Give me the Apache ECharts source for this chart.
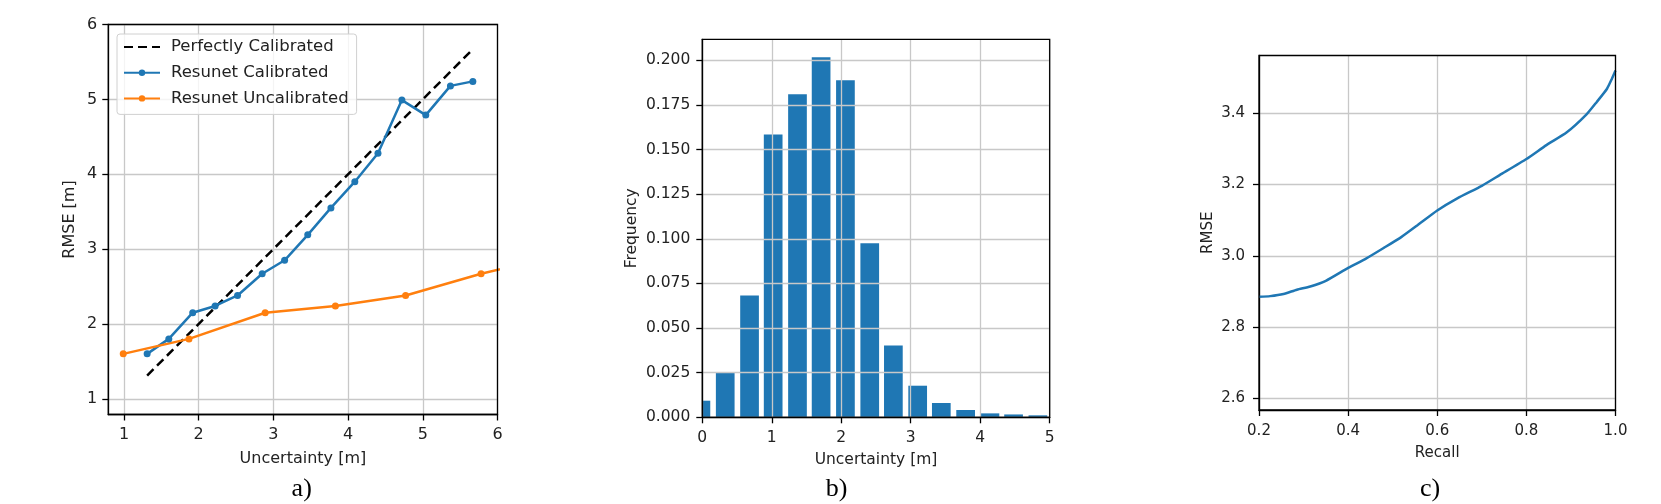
<!DOCTYPE html>
<html>
<head>
<meta charset="utf-8">
<script src="https://cdn.jsdelivr.net/npm/echarts@6/dist/echarts.min.js"></script>
<style>
  html, body { margin: 0; background: #fff; }
  #chart { width: 1661px; height: 504px; }
</style>
</head>
<body>
<div id="chart"></div>
<script>
// a) calibration curves
const calibX = [1.31, 1.60, 1.92, 2.22, 2.52, 2.85, 3.15, 3.46, 3.77, 4.09, 4.40, 4.72, 5.04, 5.37, 5.67]
const calibY = [1.60, 1.80, 2.15, 2.24, 2.38, 2.67, 2.85, 3.19, 3.55, 3.90, 4.28, 4.99, 4.79, 5.18, 5.24]
const uncalX = [0.99, 1.87, 2.89, 3.83, 4.77, 5.78, 6.75]
const uncalY = [1.60, 1.80, 2.15, 2.24, 2.38, 2.67, 2.90]
const perfectX = [1.31, 5.67]
const ticksA = [1, 2, 3, 4, 5, 6]

// b) uncertainty histogram
const binCenters = [-0.02, 0.33, 0.68, 1.02, 1.37, 1.71, 2.06, 2.41, 2.75, 3.10, 3.44, 3.79, 4.14, 4.48, 4.83]
const freq = [0.0093, 0.0252, 0.0683, 0.1584, 0.181, 0.2017, 0.1888, 0.0975, 0.0403, 0.0177, 0.008, 0.0041, 0.0022, 0.0016, 0.0011]
const ticksB = [0, 0.025, 0.05, 0.075, 0.1, 0.125, 0.15, 0.175, 0.2]

// c) RMSE vs recall
const recall = [0.20, 0.225, 0.255, 0.285, 0.315, 0.35, 0.40, 0.44, 0.48, 0.52, 0.555, 0.60, 0.645, 0.70, 0.74, 0.80, 0.845, 0.89, 0.935, 0.958, 0.981, 0.992, 1.0]
const rmse = [2.885, 2.887, 2.893, 2.905, 2.914, 2.930, 2.966, 2.992, 3.022, 3.053, 3.085, 3.127, 3.161, 3.196, 3.226, 3.271, 3.310, 3.345, 3.396, 3.431, 3.468, 3.496, 3.519]
const ticksC = [2.6, 2.8, 3.0, 3.2, 3.4]

const zip = (xs, ys) => xs.map((x, i) => [x, ys[i]])

const FONT = 'DejaVu Sans'
const TXT = '#222'
const BLUE = '#1f77b4'
const ORANGE = '#ff7f0e'
const BAR_W = 18.7

function axis(opts) {
  return Object.assign({
    type: 'value',
    nameLocation: 'middle',
    nameTextStyle: { fontFamily: FONT, fontSize: 16, color: TXT },
    axisLine: { show: true, onZero: false, lineStyle: { color: '#000', width: 1.3 } },
    axisTick: { show: true, inside: false, length: 6, lineStyle: { color: '#000', width: 1.3 } },
    axisLabel: { fontFamily: FONT, fontSize: 16, color: TXT },
    splitLine: { show: true, lineStyle: { color: '#c8c8c8', width: 1.3 } }
  }, opts)
}

// histogram bars, clipped to the plot box like matplotlib does
function renderBar(params, api) {
  const x = api.value(0)
  const base = api.coord([x, 0])
  const top = api.coord([x, api.value(1)])
  const cs = params.coordSys
  const rect = echarts.graphic.clipRectByRect(
    { x: top[0] - BAR_W / 2, y: top[1], width: BAR_W, height: base[1] - top[1] },
    { x: cs.x, y: cs.y, width: cs.width, height: cs.height }
  )
  return rect && { type: 'rect', shape: rect, style: api.style({ fill: BLUE }) }
}

const chart = echarts.init(document.getElementById('chart'))

const border = { show: true, borderColor: '#000', borderWidth: 1.3, z: 10 }

const option = {
  animation: false,
  backgroundColor: '#fff',
  grid: [
    Object.assign({ left: 108.3, top: 24.5, width: 389.2, height: 390 }, border),
    Object.assign({ left: 702.3, top: 39.3, width: 347.4, height: 378 }, border),
    Object.assign({ left: 1259, top: 55.5, width: 356.5, height: 354.5 }, border)
  ],
  xAxis: [
    axis({
      gridIndex: 0, min: 0.79, max: 6, splitNumber: 5,
      name: 'Uncertainty [m]', nameGap: 36,
      axisTick: { show: true, length: 6, customValues: ticksA, lineStyle: { color: '#000', width: 1.3 } },
      axisLabel: { fontFamily: FONT, fontSize: 16, color: TXT, margin: 12, customValues: ticksA }
    }),
    axis({
      gridIndex: 1, min: 0, max: 5, interval: 1, z: 5,
      name: 'Uncertainty [m]', nameGap: 35,
      nameTextStyle: { fontFamily: FONT, fontSize: 15.5, color: TXT },
      axisLabel: { fontFamily: FONT, fontSize: 15.5, color: TXT, margin: 13 }
    }),
    axis({
      gridIndex: 2, min: 0.2, max: 1.0, interval: 0.2,
      name: 'Recall', nameGap: 36,
      nameTextStyle: { fontFamily: FONT, fontSize: 15, color: TXT },
      axisLabel: { fontFamily: FONT, fontSize: 15, color: TXT, margin: 14, formatter: v => v.toFixed(1) }
    })
  ],
  yAxis: [
    axis({
      gridIndex: 0, min: 0.79, max: 6, splitNumber: 5,
      name: 'RMSE [m]', nameGap: 30,
      axisTick: { show: true, length: 6, customValues: ticksA, lineStyle: { color: '#000', width: 1.3 } },
      axisLabel: { fontFamily: FONT, fontSize: 16, color: TXT, margin: 11, customValues: ticksA }
    }),
    axis({
      gridIndex: 1, min: 0, max: 0.2118, interval: 0.025, z: 5,
      name: 'Frequency', nameGap: 62,
      nameTextStyle: { fontFamily: FONT, fontSize: 15.5, color: TXT },
      axisTick: { show: true, length: 6, customValues: ticksB, lineStyle: { color: '#000', width: 1.3 } },
      axisLabel: { fontFamily: FONT, fontSize: 15.5, color: TXT, margin: 12, customValues: ticksB, formatter: v => v.toFixed(3) }
    }),
    axis({
      gridIndex: 2, min: 2.568, max: 3.561, splitNumber: 5,
      name: 'RMSE', nameGap: 43,
      nameTextStyle: { fontFamily: FONT, fontSize: 15, color: TXT },
      axisTick: { show: true, length: 6, customValues: ticksC, lineStyle: { color: '#000', width: 1.3 } },
      axisLabel: { fontFamily: FONT, fontSize: 15, color: TXT, margin: 14, customValues: ticksC, formatter: v => v.toFixed(1) }
    })
  ],
  legend: {
    data: [
      { name: 'Perfectly Calibrated', itemStyle: { color: 'rgba(0,0,0,0)', opacity: 0 } },
      'Resunet Calibrated',
      'Resunet Uncalibrated'
    ],
    orient: 'vertical',
    left: 117, top: 34,
    itemWidth: 36, itemHeight: 8, itemGap: 7.7,
    padding: [4, 8, 7, 6],
    backgroundColor: 'rgba(255,255,255,0.8)',
    borderColor: '#d0d0d0', borderWidth: 1, borderRadius: 3,
    textStyle: { fontFamily: FONT, fontSize: 16.5, color: TXT, lineHeight: 18, padding: [0, 0, 0, 6] }
  },
  series: [
    {
      name: 'Perfectly Calibrated', type: 'line', xAxisIndex: 0, yAxisIndex: 0,
      data: zip(perfectX, perfectX), symbol: 'none',
      lineStyle: { color: '#000', width: 2.5, type: [9, 5] }, itemStyle: { color: '#000' }
    },
    {
      name: 'Resunet Calibrated', type: 'line', xAxisIndex: 0, yAxisIndex: 0,
      data: zip(calibX, calibY), symbol: 'circle', symbolSize: 7,
      lineStyle: { color: BLUE, width: 2.5 }, itemStyle: { color: BLUE }
    },
    {
      name: 'Resunet Uncalibrated', type: 'line', xAxisIndex: 0, yAxisIndex: 0,
      data: zip(uncalX, uncalY), symbol: 'circle', symbolSize: 7, clip: true,
      lineStyle: { color: ORANGE, width: 2.5 }, itemStyle: { color: ORANGE }
    },
    {
      name: 'Frequency', type: 'custom', xAxisIndex: 1, yAxisIndex: 1,
      data: zip(binCenters, freq), renderItem: renderBar, z: 1,
      encode: { x: 0, y: 1 },
      itemStyle: { color: BLUE }
    },
    {
      name: 'RMSE', type: 'line', xAxisIndex: 2, yAxisIndex: 2,
      data: zip(recall, rmse), symbol: 'none', smooth: 0.2,
      lineStyle: { color: BLUE, width: 2.5 }
    }
  ],
  graphic: [
    { type: 'text', x: 301.7, y: 489, style: { text: 'a)', font: '26px "Liberation Serif"', fill: '#000', align: 'center', verticalAlign: 'middle', textAlign: 'center', textVerticalAlign: 'middle' } },
    { type: 'text', x: 836.7, y: 489, style: { text: 'b)', font: '26px "Liberation Serif"', fill: '#000', align: 'center', verticalAlign: 'middle', textAlign: 'center', textVerticalAlign: 'middle' } },
    { type: 'text', x: 1430, y: 489, style: { text: 'c)', font: '26px "Liberation Serif"', fill: '#000', align: 'center', verticalAlign: 'middle', textAlign: 'center', textVerticalAlign: 'middle' } }
  ]
}

chart.setOption(option)

window.addEventListener('resize', () => {
  chart.resize()
})
</script>
</body>
</html>
